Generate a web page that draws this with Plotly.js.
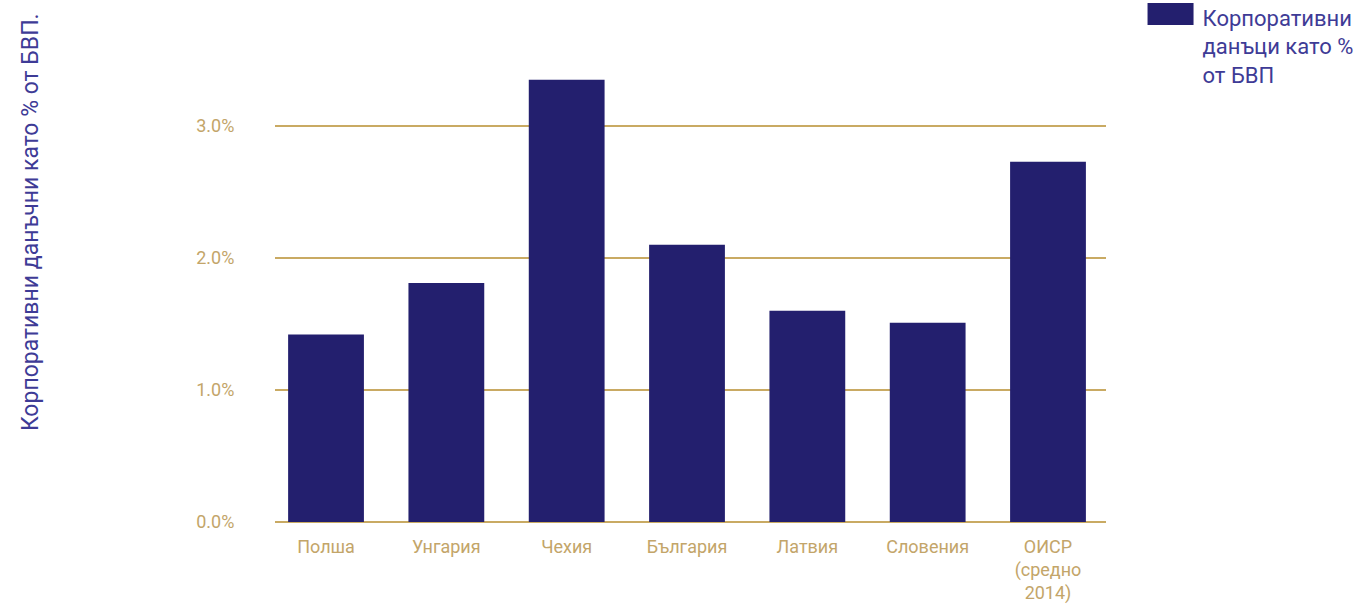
<!DOCTYPE html>
<html>
<head>
<meta charset="utf-8">
<script src="https://cdn.plot.ly/plotly-3.0.1.min.js"></script>
<style>
html,body{margin:0;padding:0;background:#fff;overflow:hidden;}
#chart{position:absolute;left:0;top:-30px;width:1367px;height:638px;}
</style>
</head>
<body>
<div id="chart"></div>
<script>
const categories = ["Полша", "Унгария", "Чехия", "България", "Латвия", "Словения", "ОИСР<br>(средно<br>2014)"];
const values = [1.42, 1.81, 3.35, 2.10, 1.60, 1.51, 2.73];
const seriesName = "Корпоративни<br>данъци като %<br>от БВП";
const yTickVals = [0, 1, 2, 3, 4];
const yTickText = ["0.0%", "1.0%", "2.0%", "3.0%", "4.0%"];
const yTitle = "Корпоративни данъчни като % от БВП.";

const gold = "#C9AA63";
const tickGold = "#C3A569";
const navy = "#231F6E";
const textNavy = "#3E3B96";

const trace = {
  type: "bar",
  x: categories,
  y: values,
  name: seriesName,
  marker: {color: navy, line: {width: 0}},
  width: 0.63,
  hoverinfo: "skip",
  showlegend: true
};

const layout = {
  width: 1367,
  height: 638,
  margin: {l: 275, r: 261, t: 24, b: 86, autoexpand: false},
  paper_bgcolor: "#ffffff",
  plot_bgcolor: "#ffffff",
  font: {family: "Roboto, 'Open Sans', sans-serif", color: tickGold, size: 18},
  showlegend: true,
  legend: {
    xref: "container", yref: "container",
    x: 0.8358, y: 0.959, xanchor: "left", yanchor: "top",
    font: {size: 22, color: textNavy, family: "Roboto, sans-serif"},
    itemwidth: 50,
    valign: "top",
    bgcolor: "rgba(0,0,0,0)",
    borderwidth: 0,
    tracegroupgap: 0
  },
  xaxis: {
    type: "category",
    range: [-0.424, 6.482],
    showgrid: false,
    showline: false,
    zeroline: false,
    ticks: "outside",
    ticklen: 8,
    tickcolor: "rgba(0,0,0,0)",
    tickfont: {size: 18, color: tickGold},
    fixedrange: true
  },
  yaxis: {
    range: [0, 4],
    tickvals: yTickVals,
    ticktext: yTickText,
    showgrid: true,
    gridcolor: gold,
    gridwidth: 1.3,
    zeroline: true,
    zerolinecolor: gold,
    zerolinewidth: 1.6,
    showline: false,
    ticks: "outside",
    ticklen: 36,
    tickcolor: "rgba(0,0,0,0)",
    tickfont: {size: 18, color: tickGold},
    fixedrange: true
  },
  annotations: [{
    text: yTitle,
    xref: "paper", yref: "paper",
    x: -0.2948, y: 0.568,
    xanchor: "center", yanchor: "middle",
    textangle: -90,
    showarrow: false,
    font: {size: 23, color: textNavy, family: "Roboto, sans-serif"}
  }]
};

Plotly.newPlot("chart", [trace], layout, {displayModeBar: false, staticPlot: true}).then(function(gd){
  gd.querySelectorAll(".legendpoints path").forEach(function(p){
    p.setAttribute("d", "M21,8H-25V-14H21Z");
  });
});
</script>
</body>
</html>
